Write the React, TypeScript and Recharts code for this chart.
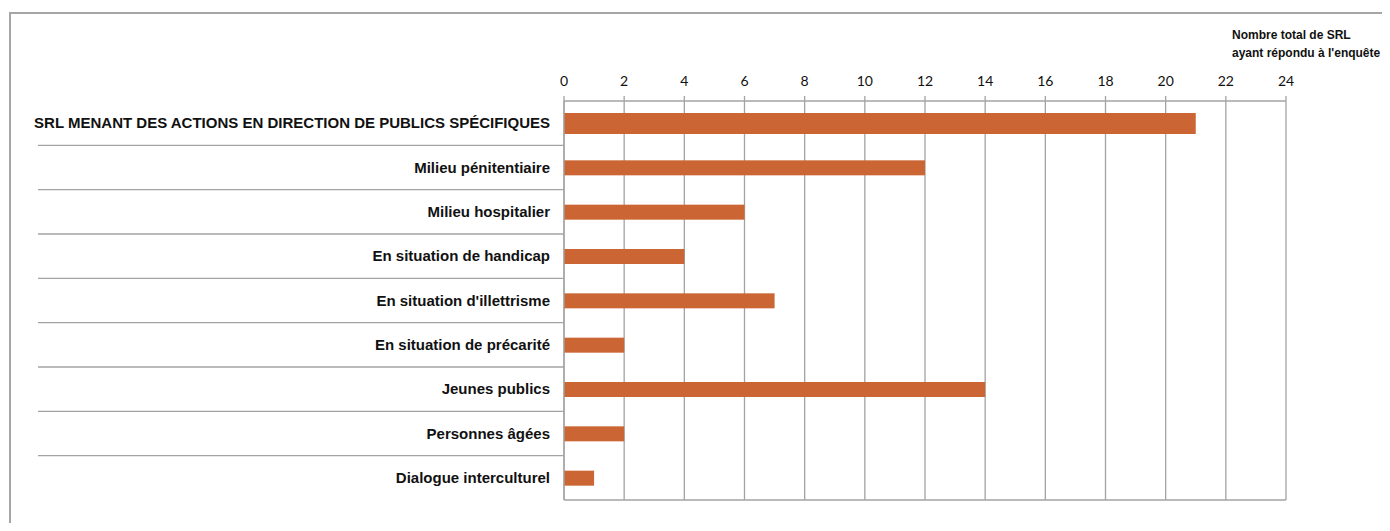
import React from "react";
import { BarChart, Bar, XAxis, YAxis, CartesianGrid } from "recharts";

const categories = [
  "SRL MENANT DES ACTIONS EN DIRECTION DE PUBLICS SPÉCIFIQUES",
  "Milieu pénitentiaire",
  "Milieu hospitalier",
  "En situation de handicap",
  "En situation d'illettrisme",
  "En situation de précarité",
  "Jeunes publics",
  "Personnes âgées",
  "Dialogue interculturel",
];
const values = [21, 12, 6, 4, 7, 2, 14, 2, 1];
const xTicks = [0, 2, 4, 6, 8, 10, 12, 14, 16, 18, 20, 22, 24];
const noteLines = ["Nombre total de SRL", "ayant répondu à l'enquête"];

const data = categories.map((name, i) => ({ name, value: values[i] }));

const W = 1382;
const H = 515;
const MARGIN = { top: 63, right: 104, bottom: 8, left: 0 };
const TOP_AXIS_H = 30;
const BOTTOM_AXIS_H = 15;
const PLOT_H = H - MARGIN.top - MARGIN.bottom - TOP_AXIS_H - BOTTOM_AXIS_H;
const BAND = PLOT_H / categories.length;

const LABEL_FONT = "'Liberation Sans', Arial, sans-serif";
const NUM_FONT = "Lato, 'Open Sans', sans-serif";
const GRID = "#a3a3a3";
const BAR = "#CB6533";

const CategoryTick = (props: any) => {
  const { x, y, payload, index } = props;
  const half = payload && payload.offset ? payload.offset : BAND / 2;
  return (
    <g>
      {index > 0 && (
        <line x1={30} x2={x + 8} y1={y - half} y2={y - half} stroke={GRID} strokeWidth={1.3} />
      )}
      <text
        x={x - 6}
        y={y}
        dy="0.35em"
        textAnchor="end"
        fontFamily={LABEL_FONT}
        fontSize={15}
        fontWeight="bold"
        fill="#111"
      >
        {payload.value}
      </text>
    </g>
  );
};

const BarShape = (props: any) => {
  const { x, y, width, height, index } = props;
  const h = index === 0 ? 21 : height;
  const cy = y + height / 2;
  return <rect x={x} y={cy - h / 2} width={width} height={h} fill={BAR} />;
};

const EmptyTick = () => <g />;

export default function App() {
  return (
    <div style={{ position: "relative", width: W, height: H }}>
      <div
        style={{
          position: "absolute",
          left: 1,
          top: 4,
          width: W + 20,
          height: H + 20,
          borderLeft: "2px solid #a6a6a6",
          borderTop: "2px solid #a6a6a6",
          boxSizing: "border-box",
        }}
      />
      <div
        style={{
          position: "absolute",
          left: 1224,
          top: 18,
          fontFamily: LABEL_FONT,
          fontSize: 12,
          fontWeight: "bold",
          lineHeight: "18px",
          color: "#111",
          whiteSpace: "nowrap",
        }}
      >
        {noteLines.map((l) => (
          <div key={l}>{l}</div>
        ))}
      </div>
      <div style={{ position: "absolute", left: 0, top: 0 }}>
        <BarChart width={W} height={H} data={data} layout="vertical" margin={MARGIN}>
          <CartesianGrid horizontal={false} vertical stroke={GRID} strokeWidth={1.3} />
          <XAxis
            type="number"
            orientation="top"
            domain={[0, 24]}
            ticks={xTicks}
            interval={0}
            height={TOP_AXIS_H}
            tickSize={5}
            tickMargin={10}
            axisLine={{ stroke: GRID, strokeWidth: 1.3 }}
            tickLine={{ stroke: GRID, strokeWidth: 1.3 }}
            tick={{ fontFamily: NUM_FONT, fontSize: 14, fill: "#111" }}
          />
          <XAxis
            xAxisId="bottom"
            type="number"
            orientation="bottom"
            domain={[0, 24]}
            ticks={xTicks}
            interval={0}
            height={BOTTOM_AXIS_H}
            tickSize={8}
            axisLine={{ stroke: GRID, strokeWidth: 1.3 }}
            tickLine={{ stroke: GRID, strokeWidth: 1.3 }}
            tick={EmptyTick}
          />
          <YAxis
            type="category"
            dataKey="name"
            width={556}
            tickLine={false}
            interval={0}
            axisLine={{ stroke: GRID, strokeWidth: 1.3 }}
            tick={CategoryTick}
          />
          <Bar dataKey="value" barSize={15} fill={BAR} shape={BarShape} isAnimationActive={false} />
        </BarChart>
      </div>
    </div>
  );
}
